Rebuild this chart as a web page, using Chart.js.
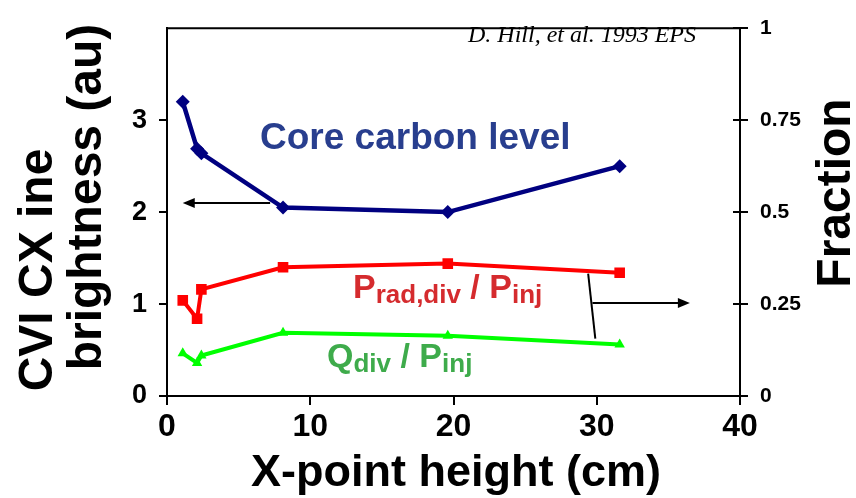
<!DOCTYPE html>
<html>
<head>
<meta charset="utf-8">
<script src="https://cdn.jsdelivr.net/npm/chart.js@4"></script>
<style>
  html, body { margin: 0; padding: 0; background: #ffffff; }
  #wrap { width: 856px; height: 498px; }
</style>
</head>
<body>
<div id="wrap"><canvas id="chart" width="856" height="498"></canvas></div>
<script>
// X-point height scan (cm)
const xPointHeight = [1.1, 2.1, 2.4, 8.1, 19.6, 31.6];
// CVI CX line brightness (au), left axis
const coreCarbon = [3.2, 2.69, 2.64, 2.05, 2.0, 2.5];
// Divertor radiated power fraction, right axis
const pradFraction = [0.26, 0.21, 0.29, 0.35, 0.36, 0.335];
// Divertor heat flux fraction, right axis
const qdivFraction = [0.116, 0.09, 0.11, 0.172, 0.164, 0.14];

const xTicks = [0, 10, 20, 30, 40];
const leftTicks = [0, 1, 2, 3];
const rightTicks = [0, 0.25, 0.5, 0.75, 1];

// Arrows tying each curve group to its axis (data units)
const leftArrow = { from: [7.2, 2.1], to: [1.1, 2.1] };            // on left axis
const bracketLine = { from: [29.4, 0.333], to: [29.9, 0.156] };     // on right axis
const rightArrow = { from: [29.7, 0.2526], to: [36.5, 0.2526] };    // on right axis

const SANS = "'Liberation Sans', Arial, Helvetica, sans-serif";
const SERIF = "'Liberation Serif', 'Times New Roman', serif";

function pts(xs, ys) { return xs.map((x, i) => ({ x: x, y: ys[i] })); }

function drawArrowHead(ctx, x1, y1, x2, y2, len, half) {
  const a = Math.atan2(y2 - y1, x2 - x1);
  ctx.beginPath();
  ctx.moveTo(x2, y2);
  ctx.lineTo(x2 - len * Math.cos(a) + half * Math.sin(a), y2 - len * Math.sin(a) - half * Math.cos(a));
  ctx.lineTo(x2 - len * Math.cos(a) - half * Math.sin(a), y2 - len * Math.sin(a) + half * Math.cos(a));
  ctx.closePath();
  ctx.fill();
}

function drawSubLabel(ctx, x, y, parts, color) {
  ctx.fillStyle = color;
  ctx.textAlign = 'left';
  ctx.textBaseline = 'alphabetic';
  let cx = x;
  parts.forEach(p => {
    ctx.font = 'bold ' + p.size + 'px ' + SANS;
    ctx.fillText(p.text, cx, y + (p.shift || 0));
    cx += ctx.measureText(p.text).width;
  });
}

const decorations = {
  id: 'decorations',
  beforeDatasetsDraw(chart) {
    const { ctx, chartArea, scales } = chart;
    ctx.save();
    // frame top edge
    ctx.strokeStyle = '#000';
    ctx.lineWidth = 2;
    ctx.beginPath();
    ctx.moveTo(chartArea.left - 1, chartArea.top);
    ctx.lineTo(chartArea.right + 1, chartArea.top);
    ctx.stroke();
    // inner half of the right axis tick marks
    const y2 = scales.y2;
    y2.ticks.forEach(t => {
      const py = Math.round(y2.getPixelForValue(t.value));
      ctx.beginPath();
      ctx.moveTo(chartArea.right - 7, py);
      ctx.lineTo(chartArea.right, py);
      ctx.stroke();
    });
    ctx.restore();
  },
  afterDraw(chart) {
    const { ctx, scales } = chart;
    const x = scales.x, y = scales.y, y2 = scales.y2;
    ctx.save();
    ctx.strokeStyle = '#000';
    ctx.fillStyle = '#000';
    ctx.lineWidth = 2;

    // left arrow (core carbon -> left axis)
    let ax1 = x.getPixelForValue(leftArrow.from[0]), ay1 = y.getPixelForValue(leftArrow.from[1]);
    let ax2 = x.getPixelForValue(leftArrow.to[0]), ay2 = y.getPixelForValue(leftArrow.to[1]);
    ctx.beginPath(); ctx.moveTo(ax1, ay1); ctx.lineTo(ax2 + 8, ay2); ctx.stroke();
    drawArrowHead(ctx, ax1, ay1, ax2, ay2, 12, 5);

    // bracket joining the two fraction curves
    ctx.beginPath();
    ctx.moveTo(x.getPixelForValue(bracketLine.from[0]), y2.getPixelForValue(bracketLine.from[1]));
    ctx.lineTo(x.getPixelForValue(bracketLine.to[0]), y2.getPixelForValue(bracketLine.to[1]));
    ctx.stroke();

    // right arrow (fractions -> right axis)
    ax1 = x.getPixelForValue(rightArrow.from[0]); ay1 = y2.getPixelForValue(rightArrow.from[1]);
    ax2 = x.getPixelForValue(rightArrow.to[0]); ay2 = y2.getPixelForValue(rightArrow.to[1]);
    ctx.beginPath(); ctx.moveTo(ax1, ay1); ctx.lineTo(ax2 - 8, ay2); ctx.stroke();
    drawArrowHead(ctx, ax1, ay1, ax2, ay2, 12, 5);

    // series labels
    ctx.textAlign = 'left';
    ctx.textBaseline = 'alphabetic';
    ctx.fillStyle = '#283e8e';
    ctx.font = 'bold 37px ' + SANS;
    ctx.fillText('Core carbon level', 260, 149);

    drawSubLabel(ctx, 353, 298, [
      { text: 'P', size: 34 },
      { text: 'rad,div', size: 26, shift: 5 },
      { text: ' / P', size: 34 },
      { text: 'inj', size: 26, shift: 5 }
    ], '#d52b2e');

    drawSubLabel(ctx, 327, 367, [
      { text: 'Q', size: 34 },
      { text: 'div', size: 26, shift: 5 },
      { text: ' / P', size: 34 },
      { text: 'inj', size: 26, shift: 5 }
    ], '#3eab4b');

    // citation
    ctx.fillStyle = '#000';
    ctx.font = 'italic 24px ' + SERIF;
    ctx.fillText('D. Hill, et al. 1993 EPS', 468, 42);

    // axis titles
    ctx.font = 'bold 45px ' + SANS;
    ctx.textAlign = 'center';
    ctx.fillText('X-point height (cm)', 456, 486);

    function vtext(text, px, py, size) {
      ctx.save();
      ctx.translate(px, py);
      ctx.rotate(-Math.PI / 2);
      ctx.font = 'bold ' + size + 'px ' + SANS;
      ctx.textAlign = 'center';
      ctx.fillText(text, 0, 0);
      ctx.restore();
    }
    vtext('CVI CX ine', 52, 270, 48);
    vtext('brightness (au)', 101, 197, 48);
    vtext('Fraction', 850, 193, 48);
    ctx.restore();
  }
};

const axisCommon = {
  grid: { display: true, drawOnChartArea: false, drawTicks: true, tickLength: 8, color: '#000', lineWidth: 2 },
  border: { display: true, color: '#000', width: 2 }
};

new Chart(document.getElementById('chart'), {
  type: 'line',
  data: {
    datasets: [
      {
        label: 'Core carbon level',
        data: pts(xPointHeight, coreCarbon),
        yAxisID: 'y',
        borderColor: '#000080',
        backgroundColor: '#000080',
        borderWidth: 4.5,
        pointStyle: 'rectRot',
        pointRadius: 7,
        pointBorderWidth: 0,
        tension: 0
      },
      {
        label: 'Prad,div / Pinj',
        data: pts(xPointHeight, pradFraction),
        yAxisID: 'y2',
        borderColor: '#ff0000',
        backgroundColor: '#ff0000',
        borderWidth: 4,
        pointStyle: 'rect',
        pointRadius: 7.5,
        pointBorderWidth: 0,
        tension: 0
      },
      {
        label: 'Qdiv / Pinj',
        data: pts(xPointHeight, qdivFraction),
        yAxisID: 'y2',
        borderColor: '#00ff00',
        backgroundColor: '#00ff00',
        borderWidth: 4,
        pointStyle: 'triangle',
        pointRadius: 6,
        pointBorderWidth: 0,
        tension: 0
      }
    ]
  },
  options: {
    responsive: false,
    animation: false,
    devicePixelRatio: 1,
    layout: { padding: { top: 18, left: 0, right: 0, bottom: 0 } },
    plugins: { legend: { display: false }, tooltip: { enabled: false } },
    scales: {
      x: {
        type: 'linear',
        position: 'bottom',
        min: 0, max: 40,
        ...axisCommon,
        grid: { ...axisCommon.grid, tickLength: 9 },
        ticks: { color: '#000', font: { family: SANS, weight: 'bold', size: 32 }, padding: 3, maxRotation: 0 },
        afterBuildTicks: s => { s.ticks = xTicks.map(v => ({ value: v })); },
        afterFit: s => { s.height = 102; }
      },
      y: {
        type: 'linear',
        position: 'left',
        min: 0, max: 4,
        ...axisCommon,
        ticks: { color: '#000', font: { family: SANS, weight: 'bold', size: 27 }, padding: 12 },
        afterBuildTicks: s => { s.ticks = leftTicks.map(v => ({ value: v })); },
        afterFit: s => { s.width = 167; }
      },
      y2: {
        type: 'linear',
        position: 'right',
        min: 0, max: 1,
        ...axisCommon,
        ticks: {
          color: '#000', font: { family: SANS, weight: 'bold', size: 21 }, padding: 12,
          callback: v => String(v)
        },
        afterBuildTicks: s => { s.ticks = rightTicks.map(v => ({ value: v })); },
        afterFit: s => { s.width = 116; }
      }
    }
  },
  plugins: [decorations]
});
</script>
</body>
</html>
